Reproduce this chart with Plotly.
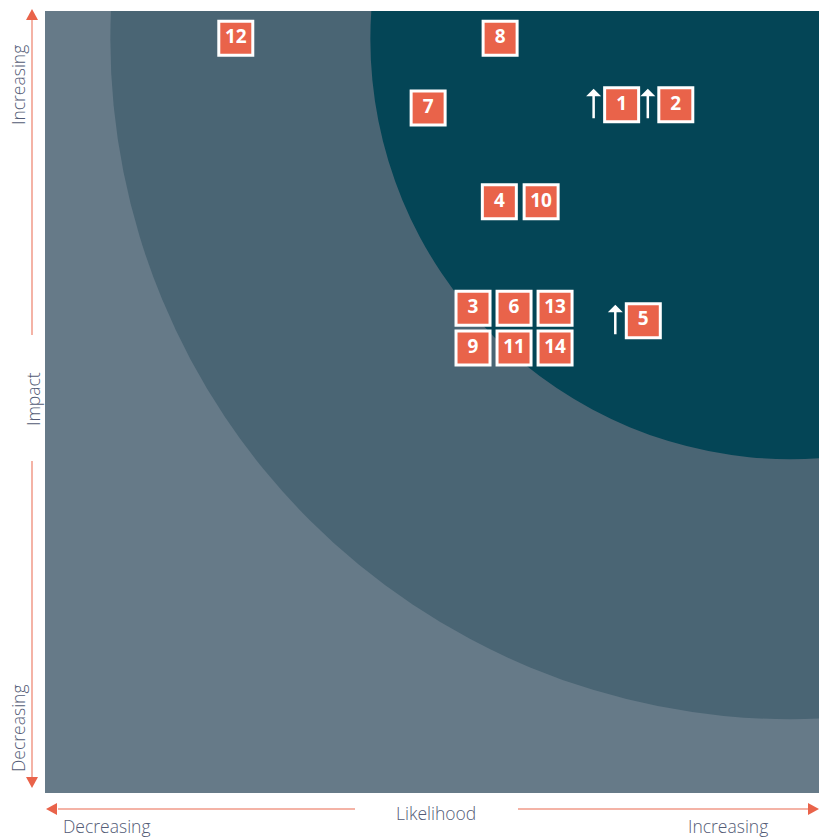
import plotly.graph_objects as go

# ---- data ----
labels = ["1", "2", "3", "4", "5", "6", "7", "8", "9", "10", "11", "12", "13", "14"]
likelihood = [74.5, 81.5, 55.3, 58.7, 77.3, 60.6, 49.5, 58.8, 55.3, 64.1, 60.6, 24.65, 65.9, 65.9]
impact = [88.0, 88.0, 62.0, 75.6, 60.4, 62.0, 87.6, 96.5, 56.9, 75.6, 56.9, 96.5, 62.0, 56.9]
trend_up = [True, True, False, False, True, False, False, False, False, False, False, False, False, False]

zone_center = (96.3, 96.4)          # data coords of ring centre
zone_radii_px = [680, 420]          # middle and inner zone radii
zone_colors = ["#4a6574", "#044556"]
outer_color = "#667a88"

W, H = 819, 838
L, R, T, B = 45, 0, 11, 45
PW, PH = W - L - R, H - T - B

def px(x):
    return (x - L) / PW

def py(y):
    return (H - B - y) / PH

fig = go.Figure()

fig.add_trace(go.Scatter(
    x=likelihood, y=impact, mode="markers+text", text=labels,
    marker=dict(symbol="square", size=34, color="#e9634a",
                line=dict(color="white", width=3)),
    textfont=dict(color="white", size=19, family="Open Sans", weight="bold"),
    textposition="middle center", hoverinfo="skip", showlegend=False,
))

shapes = []
for r, c in zip(zone_radii_px, zone_colors):
    shapes.append(dict(type="circle", xref="x", yref="y",
                       xsizemode="pixel", ysizemode="pixel",
                       xanchor=zone_center[0], yanchor=zone_center[1],
                       x0=-r, x1=r, y0=-r, y1=r,
                       fillcolor=c, line=dict(width=0), layer="below"))

line_col = "#f09a88"
head_col = "#e9634a"
# axis guide lines
for (x0, y0, x1, y1) in [(32, 20, 32, 335), (32, 461, 32, 777),
                         (58, 809, 355, 809), (518, 809, 809, 809)]:
    shapes.append(dict(type="line", xref="paper", yref="paper",
                       x0=px(x0), y0=py(y0), x1=px(x1), y1=py(y1),
                       line=dict(color=line_col, width=1.5)))
# arrow heads
heads = [
    [(32, 9), (26, 20), (38, 20)],
    [(32, 788), (26, 777), (38, 777)],
    [(46, 809), (57, 803), (57, 815)],
    [(819, 809), (808, 803), (808, 815)],
]
for tri in heads:
    p = "M " + " L ".join(f"{px(a)},{py(b)}" for a, b in tri) + " Z"
    shapes.append(dict(type="path", xref="paper", yref="paper", path=p,
                       fillcolor=head_col, line=dict(width=0)))

text_col = "#535b76"
tf = dict(family="Open Sans", size=17.5, color=text_col, weight=300)
annotations = [
    dict(text="Increasing", x=px(18), y=py(85), textangle=-90),
    dict(text="Impact", x=px(33), y=py(399), textangle=-90),
    dict(text="Decreasing", x=px(18), y=py(728), textangle=-90),
    dict(text="Decreasing", x=px(107), y=py(826)),
    dict(text="Likelihood", x=px(436), y=py(813)),
    dict(text="Increasing", x=px(728), y=py(826)),
]
for a in annotations:
    a.update(xref="paper", yref="paper", showarrow=False, font=tf,
             xanchor="center", yanchor="middle")

for xv, yv, up in zip(likelihood, impact, trend_up):
    if up:
        annotations.append(dict(x=xv, y=yv, xref="x", yref="y", text="",
                                showarrow=True, ax=0, ay=31, axref="pixel",
                                xshift=-28, yshift=16, arrowcolor="white",
                                arrowwidth=2.5, arrowhead=1, arrowsize=1))

fig.update_layout(
    width=W, height=H, margin=dict(l=L, r=R, t=T, b=B),
    paper_bgcolor="white", plot_bgcolor=outer_color,
    xaxis=dict(range=[0, 100], visible=False, fixedrange=True),
    yaxis=dict(range=[0, 100], visible=False, fixedrange=True),
    shapes=shapes, annotations=annotations,
)

fig.write_html("out.html", config={"displayModeBar": False},
               post_script="document.body.style.margin='0';document.body.style.overflow='hidden';")
